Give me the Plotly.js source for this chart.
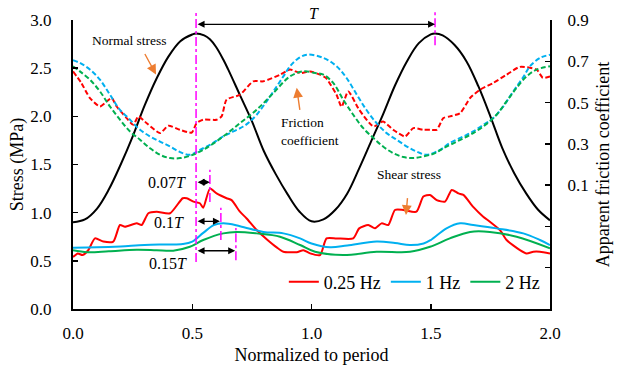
<!DOCTYPE html>
<html>
<head>
<meta charset="utf-8">
<script src="https://cdn.plot.ly/plotly-3.0.1.min.js"></script>
<style>
  html, body { margin: 0; padding: 0; background: #fff; }
  #chart { width: 619px; height: 366px; }
</style>
</head>
<body>
<div id="chart"></div>
<script>
// Normal stress (MPa) over two loading periods
const normalX = [0, 0.05, 0.1, 0.15, 0.2, 0.25, 0.3, 0.35, 0.4, 0.45, 0.5, 0.516, 0.55, 0.574, 0.6, 0.63, 0.65, 0.7, 0.75, 0.8, 0.85, 0.9, 0.95, 1.0,
                 1.05, 1.1, 1.15, 1.2, 1.25, 1.3, 1.35, 1.4, 1.45, 1.5, 1.518, 1.55, 1.6, 1.65, 1.7, 1.75, 1.8, 1.85, 1.9, 1.95, 2.0];
const normalStress = [0.90, 0.93, 1.04, 1.24, 1.50, 1.79, 2.11, 2.39, 2.62, 2.78, 2.85, 2.86, 2.84, 2.80, 2.72, 2.59, 2.49, 2.22, 1.95, 1.64, 1.40, 1.19, 1.01, 0.91,
                      0.93, 1.03, 1.20, 1.46, 1.74, 2.02, 2.32, 2.57, 2.76, 2.85, 2.86, 2.84, 2.74, 2.57, 2.31, 2.00, 1.67, 1.41, 1.20, 1.03, 0.92];

// Shear stress (MPa), 0.25 Hz
const shear025X = [0, 0.02, 0.04, 0.064, 0.092, 0.127, 0.169, 0.197, 0.218, 0.267, 0.288, 0.316, 0.351, 0.407, 0.46, 0.477, 0.505, 0.532, 0.546, 0.574, 0.602, 0.644, 0.665, 0.70, 0.728, 0.77, 0.812, 0.854, 0.882, 0.938, 0.966, 0.994,
                   1.036, 1.063, 1.105, 1.175, 1.2, 1.238, 1.266, 1.294, 1.322, 1.35, 1.385, 1.44, 1.469, 1.497, 1.525, 1.56, 1.588, 1.616, 1.637, 1.678, 1.72, 1.748, 1.79, 1.818, 1.874, 1.902, 1.93, 1.958, 2.0];
const shear025 = [0.54, 0.577, 0.56, 0.61, 0.733, 0.70, 0.70, 0.872, 0.854, 0.889, 0.872, 0.994, 1.01, 0.994, 1.15, 1.15, 1.115, 1.098, 1.05, 1.25, 1.20, 1.15, 1.13, 1.01, 0.94, 0.82, 0.725, 0.64, 0.594, 0.59, 0.611, 0.577,
                  0.56, 0.733, 0.733, 0.733, 0.837, 0.872, 0.837, 0.889, 0.872, 1.028, 1.028, 1.01, 1.167, 1.184, 1.13, 1.115, 1.236, 1.20, 1.184, 1.06, 0.958, 0.906, 0.82, 0.716, 0.611, 0.577, 0.594, 0.594, 0.577];

// Shear stress (MPa), 1 Hz
const shear1X = [0, 0.1, 0.2, 0.3, 0.4, 0.46, 0.5, 0.546, 0.59, 0.63, 0.70, 0.798, 0.882, 0.952, 1.0, 1.078, 1.15, 1.273, 1.35, 1.413, 1.47, 1.5, 1.566, 1.623, 1.678, 1.776, 1.888, 1.958, 2.0];
const shear1 = [0.635, 0.64, 0.65, 0.665, 0.67, 0.675, 0.70, 0.79, 0.87, 0.889, 0.86, 0.80, 0.785, 0.733, 0.68, 0.64, 0.66, 0.70, 0.685, 0.664, 0.68, 0.716, 0.837, 0.889, 0.872, 0.837, 0.785, 0.716, 0.664];

// Shear stress (MPa), 2 Hz
const shear2X = [0, 0.06, 0.15, 0.267, 0.35, 0.42, 0.49, 0.546, 0.63, 0.686, 0.77, 0.868, 0.952, 1.015, 1.133, 1.273, 1.413, 1.497, 1.58, 1.665, 1.748, 1.86, 2.0];
const shear2 = [0.61, 0.59, 0.60, 0.615, 0.61, 0.605, 0.646, 0.716, 0.785, 0.80, 0.785, 0.75, 0.664, 0.594, 0.56, 0.594, 0.594, 0.646, 0.733, 0.80, 0.80, 0.75, 0.63];

// Apparent friction coefficient, 0.25 Hz
const fric025X = [0, 0.035, 0.071, 0.113, 0.141, 0.162, 0.183, 0.225, 0.253, 0.274, 0.309, 0.365, 0.40, 0.449, 0.498, 0.518, 0.546, 0.602, 0.623, 0.644, 0.70, 0.756, 0.798, 0.868, 0.91, 0.952, 0.994,
                  1.036, 1.06, 1.105, 1.126, 1.154, 1.2, 1.26, 1.30, 1.343, 1.392, 1.427, 1.469, 1.497, 1.525, 1.553, 1.58, 1.623, 1.665, 1.706, 1.762, 1.818, 1.874, 1.944, 1.97, 2.0];
const fric025 = [0.651, 0.595, 0.522, 0.481, 0.505, 0.522, 0.481, 0.425, 0.392, 0.433, 0.40, 0.352, 0.388, 0.368, 0.355, 0.40, 0.417, 0.417, 0.433, 0.514, 0.538, 0.603, 0.603, 0.635, 0.66, 0.643, 0.651,
                 0.635, 0.62, 0.538, 0.48, 0.554, 0.465, 0.384, 0.408, 0.368, 0.336, 0.376, 0.368, 0.368, 0.368, 0.425, 0.433, 0.449, 0.522, 0.562, 0.595, 0.635, 0.673, 0.66, 0.62, 0.627];

// Apparent friction coefficient, 1 Hz
const fric1X = [0, 0.029, 0.071, 0.113, 0.155, 0.197, 0.239, 0.281, 0.323, 0.365, 0.407, 0.449, 0.49, 0.532, 0.574, 0.63, 0.672, 0.714, 0.742, 0.77, 0.812, 0.854, 0.882, 0.91, 0.938, 0.98,
                1.05, 1.105, 1.147, 1.19, 1.23, 1.273, 1.315, 1.357, 1.40, 1.44, 1.483, 1.539, 1.58, 1.637, 1.678, 1.72, 1.762, 1.804, 1.832, 1.86, 1.89, 1.916, 1.958, 2.0];
const fric1 = [0.705, 0.692, 0.66, 0.611, 0.538, 0.465, 0.417, 0.368, 0.336, 0.311, 0.287, 0.26, 0.247, 0.271, 0.295, 0.336, 0.36, 0.384, 0.408, 0.441, 0.506, 0.578, 0.627, 0.676, 0.708, 0.732,
               0.716, 0.676, 0.619, 0.538, 0.465, 0.40, 0.352, 0.32, 0.287, 0.263, 0.247, 0.271, 0.304, 0.336, 0.36, 0.392, 0.425, 0.481, 0.53, 0.578, 0.627, 0.676, 0.716, 0.732];

// Apparent friction coefficient, 2 Hz
const fric2X = [0, 0.029, 0.071, 0.113, 0.155, 0.197, 0.239, 0.281, 0.323, 0.365, 0.407, 0.449, 0.49, 0.546, 0.63, 0.70, 0.77, 0.84, 0.91, 0.966, 1.015,
                1.05, 1.091, 1.133, 1.175, 1.217, 1.26, 1.30, 1.343, 1.385, 1.427, 1.469, 1.518, 1.553, 1.609, 1.665, 1.72, 1.776, 1.818, 1.86, 1.902, 1.944, 2.0];
const fric2 = [0.676, 0.651, 0.611, 0.554, 0.481, 0.417, 0.36, 0.32, 0.279, 0.247, 0.231, 0.231, 0.242, 0.271, 0.336, 0.40, 0.465, 0.546, 0.627, 0.651, 0.643,
               0.635, 0.595, 0.514, 0.441, 0.376, 0.328, 0.287, 0.255, 0.236, 0.231, 0.239, 0.255, 0.279, 0.311, 0.344, 0.384, 0.441, 0.506, 0.571, 0.627, 0.66, 0.676];

const freqLabels = ['0.25 Hz', '1 Hz', '2 Hz'];
const leftTicks = [0, 0.5, 1.0, 1.5, 2.0, 2.5, 3.0];
const rightTicks = [-0.5, -0.3, -0.1, 0.1, 0.3, 0.5, 0.7, 0.9];
const rightTickText = ['', '', '', '0.1', '0.3', '0.5', '0.7', '0.9'];
const xTicks = [0, 0.5, 1.0, 1.5, 2.0];

const RED = '#FF0000', BLUE = '#00B0F0', GREEN = '#00B050', ORANGE = '#ED7D31', MAGENTA = '#FF00FF';
const SERIF = 'Liberation Serif';
const dashPat = '5px,2.5px';

const traces = [
  {x: fric025X, y: fric025, yaxis: 'y2', mode: 'lines', showlegend: false, hoverinfo: 'skip',
   line: {color: RED, width: 2, dash: dashPat, shape: 'spline', smoothing: 0.6}},
  {x: fric1X, y: fric1, yaxis: 'y2', mode: 'lines', showlegend: false, hoverinfo: 'skip',
   line: {color: BLUE, width: 2, dash: dashPat, shape: 'spline', smoothing: 1}},
  {x: fric2X, y: fric2, yaxis: 'y2', mode: 'lines', showlegend: false, hoverinfo: 'skip',
   line: {color: GREEN, width: 2, dash: dashPat, shape: 'spline', smoothing: 1}},
  {x: shear025X, y: shear025, name: freqLabels[0], mode: 'lines',
   line: {color: RED, width: 2, shape: 'spline', smoothing: 0.6}},
  {x: shear1X, y: shear1, name: freqLabels[1], mode: 'lines',
   line: {color: BLUE, width: 2, shape: 'spline', smoothing: 1}},
  {x: shear2X, y: shear2, name: freqLabels[2], mode: 'lines',
   line: {color: GREEN, width: 2, shape: 'spline', smoothing: 1}},
  {x: normalX, y: normalStress, mode: 'lines', showlegend: false,
   line: {color: '#000', width: 2, shape: 'spline', smoothing: 1}}
];

// Period markers (magenta dash-dot guides)
const guide = (x, y0, y1, yref) => ({type: 'line', xref: 'x', yref: yref || 'y', x0: x, x1: x, y0: y0, y1: y1,
  line: {color: MAGENTA, width: 1.5, dash: 'dashdot'}});
const shapes = [
  guide(0.516, 0.163, 1.028, 'paper'),
  guide(1.518, 0.913, 1.028, 'paper'),
  guide(0.574, 1.11, 1.445),
  guide(0.62, 0.715, 1.05),
  guide(0.683, 0.507, 0.84)
];

// Double-headed span arrows
const span = (x0, x1, y) => ({x: x1, y: y, ax: x0, ay: y, xref: 'x', yref: 'y', axref: 'x', ayref: 'y',
  text: '', showarrow: true, arrowside: 'end+start', arrowhead: 2, arrowsize: 1, arrowwidth: 1.4,
  arrowcolor: '#000', standoff: 0, startstandoff: 0});
// Callout arrows
const callout = (xt, yt, xh, yh) => ({x: xh, y: yh, ax: xt, ay: yt, xref: 'x', yref: 'y', axref: 'x', ayref: 'y',
  text: '', showarrow: true, arrowhead: 2, arrowsize: 1.4, arrowwidth: 1.4, arrowcolor: ORANGE, standoff: 0, startstandoff: 0});
const label = (txt, x, y, size, anchor, extra) => Object.assign({x: x, y: y, xref: 'x', yref: 'y', text: txt, showarrow: false,
  xanchor: anchor || 'center', yanchor: 'middle', font: {family: SERIF, size: size, color: '#000'}}, extra || {});

const annotations = [
  span(0.516, 1.518, 2.955),
  span(0.516, 0.574, 1.317),
  span(0.516, 0.616, 0.91),
  span(0.516, 0.68, 0.604),
  callout(0.298, 2.663, 0.348, 2.434),
  callout(0.952, 2.052, 0.938, 2.296),
  callout(1.403, 1.167, 1.396, 0.976),
  label('Normal stress', 0.236, 2.79, 13.5),
  label('Friction<br>coefficient', 0.864, 1.84, 13.5, 'left', {align: 'left'}),
  label('Shear stress', 1.409, 1.40, 13.5),
  label('0.07<i>T</i>', 0.482, 1.31, 16, 'right'),
  label('0.1<i>T</i>', 0.474, 0.893, 16, 'right'),
  label('0.15<i>T</i>', 0.486, 0.476, 16, 'right'),
  label('<i>T</i>', 1.01, 1.022, 16, 'center', {yref: 'paper'})
];

const axisBase = {
  showgrid: false, zeroline: false, showline: true, linecolor: '#000', linewidth: 2,
  ticks: 'inside', ticklen: 5, tickwidth: 1.5, tickcolor: '#000',
  tickfont: {family: SERIF, size: 17, color: '#000'}
};

const layout = {
  width: 619, height: 366,
  margin: {l: 73, r: 69, t: 20, b: 57},
  paper_bgcolor: '#fff', plot_bgcolor: '#fff',
  font: {family: SERIF, color: '#000'},
  xaxis: Object.assign({}, axisBase, {
    range: [0, 2], tickvals: xTicks, tickformat: '.1f', ticklabelstandoff: 8,
    title: {text: 'Normalized to period', font: {family: SERIF, size: 18, color: '#000'}, standoff: 6}
  }),
  yaxis: Object.assign({}, axisBase, {
    range: [0, 3], tickvals: leftTicks, tickformat: '.1f', ticklabelstandoff: 16,
    title: {text: 'Stress (MPa)', font: {family: SERIF, size: 18, color: '#000'}, standoff: 2}
  }),
  yaxis2: Object.assign({}, axisBase, {
    overlaying: 'y', side: 'right', range: [-0.5, 0.9], tickvals: rightTicks, ticktext: rightTickText,
    ticklabelstandoff: 12,
    title: {text: 'Apparent friction coefficient', font: {family: SERIF, size: 18, color: '#000'}, standoff: 8}
  }),
  legend: {orientation: 'h', x: 0.442, xanchor: 'left', y: 0.093, yanchor: 'middle',
    bgcolor: 'rgba(0,0,0,0)', font: {family: SERIF, size: 18, color: '#000'}},
  shapes: shapes,
  annotations: annotations
};

Plotly.newPlot('chart', traces, layout, {displayModeBar: false, staticPlot: true});
</script>
</body>
</html>
